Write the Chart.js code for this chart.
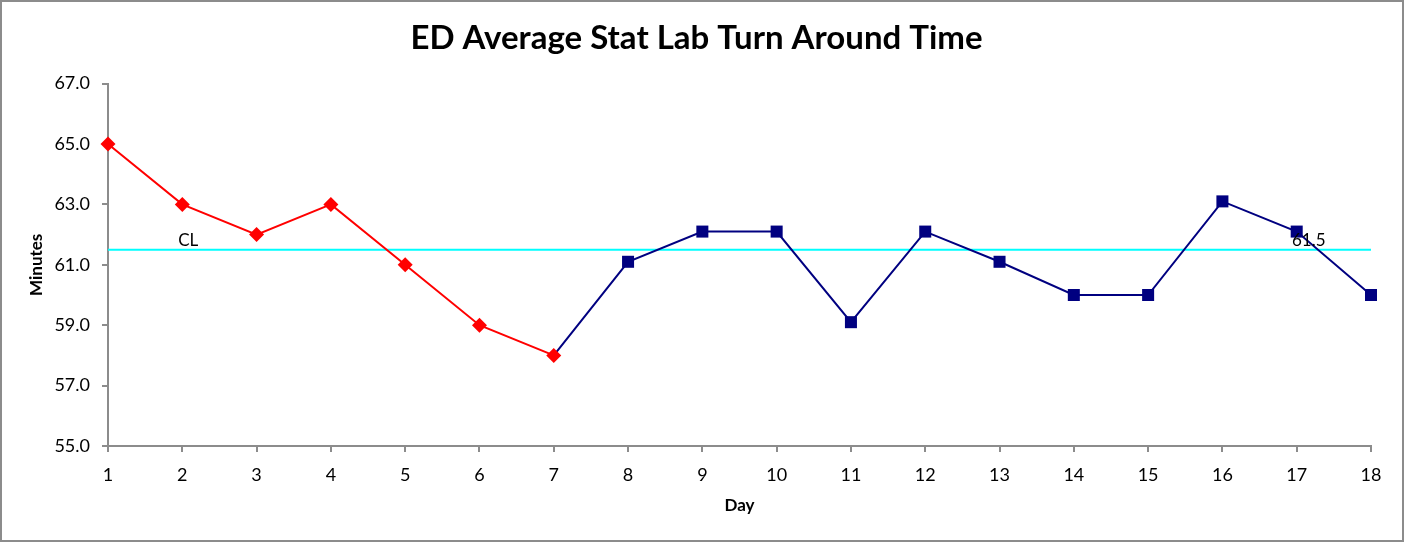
<!DOCTYPE html>
<html>
<head>
<meta charset="utf-8">
<script src="https://cdn.jsdelivr.net/npm/chart.js@4.4.1/dist/chart.umd.min.js"></script>
<style>
  html, body { margin: 0; padding: 0; background: #fff; }
  #wrap { width: 1400px; height: 538px; border: 2px solid #8c8c8c; position: relative; }
</style>
</head>
<body>
<div id="wrap"><canvas id="chart"></canvas></div>
<script>
const days = [1, 2, 3, 4, 5, 6, 7, 8, 9, 10, 11, 12, 13, 14, 15, 16, 17, 18];
const minutes = [65.0, 63.0, 62.0, 63.0, 61.0, 59.0, 58.0, 61.1, 62.1, 62.1, 59.1, 62.1, 61.1, 60.0, 60.0, 63.1, 62.1, 60.0];
const shiftDay = 7;          // last day of the red (before) phase
const clValue = 61.5;
const clLabelDays = [2, 17]; // where "CL" and the value are written
const yTicks = [55, 57, 59, 61, 63, 65, 67];

const FONT = 'Lato, "Noto Sans", sans-serif';

const before = days.filter(d => d <= shiftDay).map(d => ({ x: d, y: minutes[d - 1] }));
const after = days.filter(d => d >= shiftDay).map(d => ({ x: d, y: minutes[d - 1] }));

const clLabels = {
  id: 'clLabels',
  afterDatasetsDraw(chart) {
    const { ctx, scales: { x, y } } = chart;
    const yy = y.getPixelForValue(clValue);
    ctx.save();
    ctx.fillStyle = '#000';
    ctx.font = '17px ' + FONT;
    ctx.textAlign = 'center';
    ctx.textBaseline = 'bottom';
    ctx.fillText('CL', x.getPixelForValue(clLabelDays[0]) + 6, yy - 1);
    ctx.fillText(clValue.toFixed(1), x.getPixelForValue(clLabelDays[1]) + 12, yy - 1);
    ctx.restore();
  }
};

new Chart(document.getElementById('chart'), {
  type: 'line',
  data: {
    datasets: [
      {
        data: before,
        borderColor: '#ff0000',
        backgroundColor: '#ff0000',
        borderWidth: 2,
        pointStyle: 'rectRot',
        pointRadius: 7.5,
        pointBorderWidth: 0,
        tension: 0,
        clip: false
      },
      {
        data: after,
        borderColor: '#000080',
        backgroundColor: '#000080',
        borderWidth: 2,
        pointStyle: 'rect',
        pointRadius: ctx => ctx.dataIndex === 0 ? 0 : 8.5,
        pointBorderWidth: 0,
        tension: 0,
        clip: false
      },
      {
        data: [{ x: days[0], y: clValue }, { x: days[days.length - 1], y: clValue }],
        borderColor: '#00ffff',
        borderWidth: 2,
        pointRadius: 0
      }
    ]
  },
  options: {
    responsive: true,
    maintainAspectRatio: false,
    animation: false,
    layout: { padding: { left: 20, right: 31, top: 0, bottom: 20 } },
    plugins: {
      legend: { display: false },
      tooltip: { enabled: false },
      title: {
        display: true,
        text: 'ED Average Stat Lab Turn Around Time',
        color: '#000',
        font: { family: FONT, size: 33, weight: 'bold' },
        padding: { top: 17, bottom: 25 }
      }
    },
    scales: {
      x: {
        type: 'linear',
        min: days[0],
        max: days[days.length - 1],
        afterBuildTicks: s => { s.ticks = days.map(v => ({ value: v })); },
        ticks: { color: '#000', font: { family: FONT, size: 18 }, padding: 12 },
        grid: { drawOnChartArea: false, drawTicks: true, tickLength: 6, color: '#8c8c8c', lineWidth: 2 },
        border: { color: '#8c8c8c', width: 2 },
        title: { display: true, text: 'Day', color: '#000', font: { family: FONT, size: 17, weight: 'bold' }, padding: { top: 6 } },
        afterFit: s => { s.height = 74; }
      },
      y: {
        min: yTicks[0],
        max: yTicks[yTicks.length - 1],
        afterBuildTicks: s => { s.ticks = yTicks.map(v => ({ value: v })); },
        ticks: { color: '#000', font: { family: FONT, size: 18 }, padding: 12, callback: v => v.toFixed(1) },
        grid: { drawOnChartArea: false, drawTicks: true, tickLength: 6, color: '#8c8c8c', lineWidth: 2 },
        border: { color: '#8c8c8c', width: 2 },
        title: { display: true, text: 'Minutes', color: '#000', font: { family: FONT, size: 17, weight: 'bold' }, padding: { bottom: 12 } },
        afterFit: s => { s.width = 86; }
      }
    }
  },
  plugins: [clLabels]
});
</script>
</body>
</html>
